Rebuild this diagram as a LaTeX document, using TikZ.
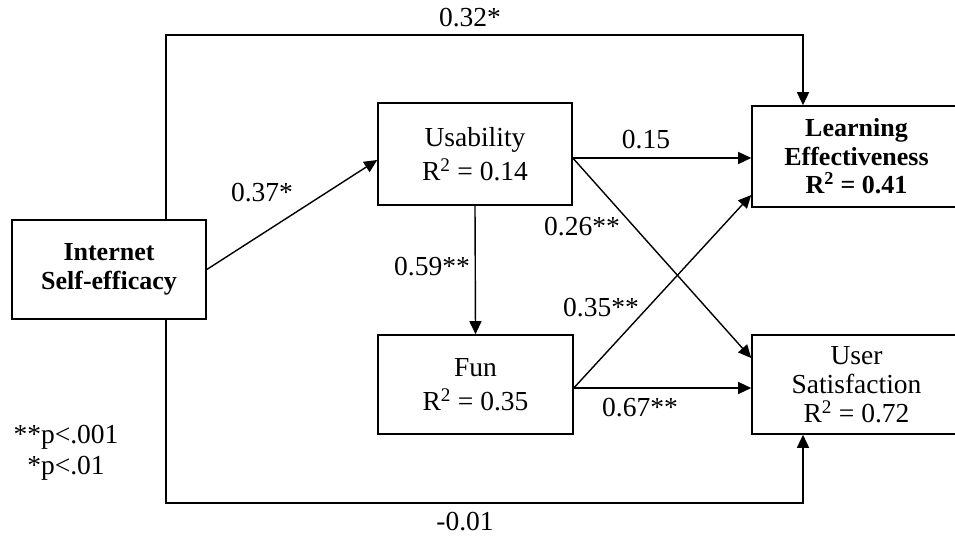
\documentclass[tikz,border=0pt]{standalone}
\usepackage{fontspec}
\setmainfont{Liberation Serif}
\usetikzlibrary{arrows.meta}
\begin{document}
\begin{tikzpicture}[x=1pt,y=-1pt,
  box/.style={draw,line width=1.6pt,inner sep=0pt,align=center,font=\fontsize{27.5}{34.5}\selectfont},
  bbox/.style={box,font=\fontsize{26}{28.5}\selectfont\bfseries},
  arr/.style={line width=1.4pt,-{Triangle[length=13pt,width=12pt]}},
  lbl/.style={inner sep=0pt,font=\fontsize{27.5}{30}\selectfont}]
\useasboundingbox (0,0) rectangle (955,537);
\node[bbox,minimum width=194pt,minimum height=99pt] (ise) at (109,269.5) {Internet\\Self-efficacy};
\node[box,minimum width=194pt,minimum height=102pt] (usa) at (475,154) {Usability\\R\textsuperscript{2} = 0.14};
\node[box,minimum width=195pt,minimum height=99pt] (fun) at (475.5,384.5) {Fun\\R\textsuperscript{2} = 0.35};
\node[bbox,minimum width=209pt,minimum height=101pt] (le) at (856.5,156.5) {Learning\\Effectiveness\\R\textsuperscript{2} = 0.41};
\node[box,minimum width=209pt,minimum height=99pt,font=\fontsize{27.5}{29}\selectfont] (us) at (856.5,384.5) {User\\Satisfaction\\R\textsuperscript{2} = 0.72};
\coordinate (top) at (480,35);
\coordinate (bot) at (480,503);
\draw[arr] (ise.east) -- ([yshift=-6pt]usa.west);
\draw[arr] (usa.south) -- (fun.north);
\draw[arr] ([yshift=-4pt]usa.east) -- ([yshift=-1.5pt]le.west);
\draw[arr] ([yshift=-4pt]usa.east) -- ([yshift=26.5pt]us.west);
\draw[arr] ([yshift=-3.5pt]fun.east) -- ([yshift=-38.5pt]le.west);
\draw[arr] ([yshift=-3.5pt]fun.east) -- ([yshift=-3.5pt]us.west);
\draw[arr] ([xshift=57pt]ise.north) |- (top) -| ([xshift=-53.5pt]le.north);
\draw[arr] ([xshift=57pt]ise.south) |- (bot) -| ([xshift=-53.5pt]us.south);
\node[lbl] (l032) at (470,18) {0.32*};
\node[lbl] (l037) at (262,193) {0.37*};
\node[lbl] (l059) at (432,267) {0.59**};
\node[lbl] (l015) at (646,140) {0.15};
\node[lbl] (l026) at (582,227) {0.26**};
\node[lbl] (l035) at (601,308) {0.35**};
\node[lbl] (l067) at (640,408) {0.67**};
\node[lbl] (l001) at (465,522) {-0.01};
\node[lbl] (p1) at (66,437) {**p<.001};
\node[lbl] (p2) at (66,468) {*p<.01};
\end{tikzpicture}
\end{document}
